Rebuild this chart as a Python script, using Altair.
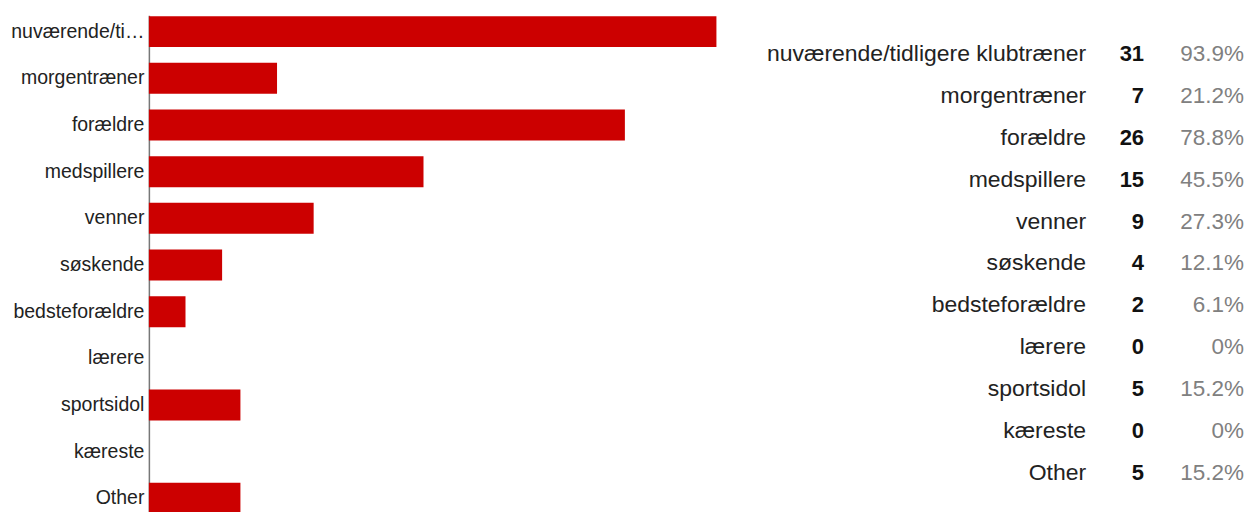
import altair as alt
import pandas as pd

categories = ["nuværende/tidligere klubtræner", "morgentræner", "forældre", "medspillere",
              "venner", "søskende", "bedsteforældre", "lærere", "sportsidol", "kæreste", "Other"]
counts = [31, 7, 26, 15, 9, 4, 2, 0, 5, 0, 5]
percents = ["93.9%", "21.2%", "78.8%", "45.5%", "27.3%", "12.1%", "6.1%", "0%", "15.2%", "0%", "15.2%"]

df = pd.DataFrame({"category": categories, "count": counts, "percent": percents})
df["count_str"] = df["count"].astype(str)

FONT = "Arial, Liberation Sans"

bars = alt.Chart(df).mark_bar(color="#cc0000").encode(
    x=alt.X("count:Q", axis=None, scale=alt.Scale(domain=[0, 31], nice=False, zero=True)),
    y=alt.Y("category:N", sort=categories, title=None,
            scale=alt.Scale(range=[0, 500], paddingInner=0.336, paddingOuter=0.02),
            axis=alt.Axis(ticks=False, labelPadding=5, labelLimit=138, labelFontSize=19.5,
                          labelFont=FONT, labelColor="#222222", domainColor="#777777",
                          domainWidth=1.5, grid=False)),
).properties(width=568, height=497)

ybase = alt.Y("category:N", sort=categories, axis=None,
              scale=alt.Scale(type="point", padding=0.93))

base = alt.Chart(df).encode(y=ybase)
labels = base.mark_text(align="right", baseline="middle", fontSize=23, font=FONT,
                        color="#222222").encode(x=alt.value(370), text="category:N")
cnts = base.mark_text(align="right", baseline="middle", fontSize=22, font=FONT,
                      fontWeight="bold", color="#111111").encode(x=alt.value(428), text="count_str:N")
pcts = base.mark_text(align="right", baseline="middle", fontSize=22.5, font=FONT,
                      color="#808080").encode(x=alt.value(528), text="percent:N")
table = alt.layer(labels, cnts, pcts).properties(width=531, height=497)

chart = alt.hconcat(bars, table, spacing=0).properties(
    padding={"left": 10, "top": 15, "right": 0, "bottom": 0},
    background="white",
).configure_view(stroke=None)

chart.save("out.html", embed_options={"renderer": "svg", "actions": False})
